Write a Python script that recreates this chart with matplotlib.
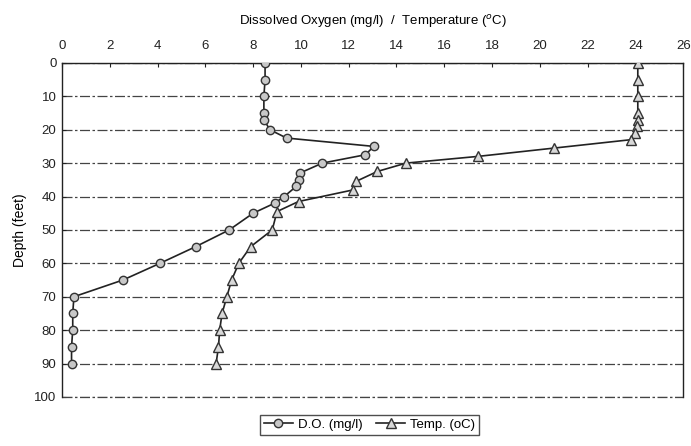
import matplotlib
matplotlib.use("Agg")
import matplotlib.pyplot as plt

plt.rcParams['font.family'] = ['Liberation Sans', 'DejaVu Sans']

do_depth = [0, 5, 10, 15, 17, 20, 22.5, 25, 27.5, 30, 33, 35, 37, 40, 42, 45, 50, 55, 60, 65, 70, 75, 80, 85, 90]
do_value = [8.5, 8.5, 8.45, 8.45, 8.45, 8.7, 9.4, 13.05, 12.7, 10.9, 9.95, 9.9, 9.8, 9.3, 8.9, 8.0, 7.0, 5.6, 4.1, 2.55, 0.5, 0.45, 0.45, 0.4, 0.4]

temp_depth = [0, 5, 10, 15, 17, 19, 21, 23, 25.5, 28, 30, 32.5, 35.5, 38, 41.5, 44.5, 50, 55, 60, 65, 70, 75, 80, 85, 90]
temp_value = [24.1, 24.1, 24.1, 24.1, 24.1, 24.05, 24.0, 23.8, 20.6, 17.4, 14.4, 13.2, 12.3, 12.2, 9.9, 9.0, 8.8, 7.9, 7.4, 7.1, 6.9, 6.7, 6.6, 6.55, 6.45]

x_ticks = list(range(0, 27, 2))
y_ticks = list(range(0, 101, 10))

fig = plt.figure(figsize=(6.91, 4.46), dpi=100)
ax = fig.add_axes([0.0897, 0.110, 0.899, 0.749])

ax.plot(do_value, do_depth, color='#222222', lw=1.2, marker='o', ms=6,
        mfc='#c8c8c8', mec='#333333', mew=1.0, label='D.O. (mg/l)', zorder=3)
ax.plot(temp_value, temp_depth, color='#222222', lw=1.2, marker='^', ms=6.5,
        mfc='#d8d8d8', mec='#333333', mew=1.0, label='Temp. (oC)', zorder=3)

ax.set_xlim(0, 26)
ax.set_ylim(100, 0)
ax.set_xticks(x_ticks)
ax.set_yticks(y_ticks)
ax.xaxis.tick_top()
ax.xaxis.set_label_position('top')
ax.tick_params(axis='both', labelsize=9.5, length=3, direction='in', colors='#222222', pad=4)
ax.tick_params(axis='x', pad=8)
ax.set_xlabel('Dissolved Oxygen (mg/l)  /  Temperature ($^{o}$C)', fontsize=9.5, labelpad=11)
ax.set_ylabel('Depth (feet)', fontsize=10, labelpad=5)

ax.yaxis.grid(True, color='#444444', lw=0.9, ls=(0, (8, 2, 2, 2)))
ax.axhline(100, color='#444444', lw=0.9, ls=(0, (8, 2, 2, 2)), clip_on=False)
ax.set_axisbelow(True)
for s in ['top', 'left', 'right']:
    ax.spines[s].set_color('#222222')
    ax.spines[s].set_linewidth(1.0)
ax.spines['bottom'].set_visible(False)

leg = fig.legend(loc='center', bbox_to_anchor=(0.535, 0.048), ncol=2, fontsize=9.5,
                 frameon=True, fancybox=False, edgecolor='#222222', handlelength=2.2,
                 columnspacing=1.0, handletextpad=0.4, borderpad=0.3)
leg.get_frame().set_linewidth(1.0)

fig.savefig('out.png', dpi=100)
